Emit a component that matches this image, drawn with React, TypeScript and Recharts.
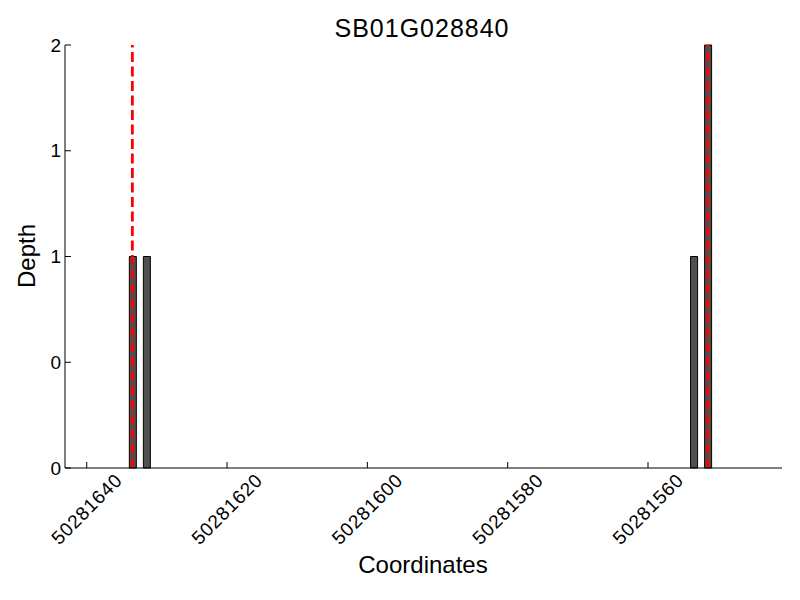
import { Bar, ComposedChart, ReferenceLine, XAxis, YAxis } from 'recharts'

// bar centres (coordinate) and their depth
const positions = [50281633.5, 50281631.5, 50281553.5, 50281551.5]
const depths = [1, 1, 1, 2]

// red dashed markers
const markerPositions = [50281633.5, 50281551.5]

const xTicks = [50281640, 50281620, 50281600, 50281580, 50281560]
const yTicks = [0, 0.5, 1, 1.5, 2]
const yTickLabels = ['0', '0', '1', '1', '2']

const title = 'SB01G028840'
const xLabel = 'Coordinates'
const yLabel = 'Depth'

const data = positions.map((x, i) => ({ x, depth: depths[i] }))

const FONT = '"Liberation Sans", Arial, sans-serif'
const PLOT_LEFT = 65
const PLOT_TOP = 45
const PLOT_BOTTOM = 468
const TICK_LEN = 6

const XTick = (props: any) => {
    const { x, payload } = props
    const cy = 509
    return (
        <g>
            <line x1={x} x2={x} y1={PLOT_BOTTOM} y2={PLOT_BOTTOM - TICK_LEN} stroke="#000" strokeWidth={1} />
            <text
                x={x}
                y={cy}
                transform={`rotate(-45 ${x} ${cy})`}
                textAnchor="middle"
                dominantBaseline="central"
                fontFamily={FONT}
                fontSize={19}
                letterSpacing={0.8}
                fill="#000"
            >
                {String(payload.value)}
            </text>
        </g>
    )
}

const YTick = (props: any) => {
    const { y, payload } = props
    const idx = yTicks.indexOf(payload.value)
    return (
        <g>
            <line x1={PLOT_LEFT} x2={PLOT_LEFT + TICK_LEN} y1={y} y2={y} stroke="#000" strokeWidth={1} />
            <text
                x={61}
                y={y}
                textAnchor="end"
                dominantBaseline="central"
                fontFamily={FONT}
                fontSize={19}
                fill="#000"
            >
                {yTickLabels[idx]}
            </text>
        </g>
    )
}

export default function App() {
    return (
        <div style={{ position: 'absolute', left: 0, top: 0, width: 800, height: 600, background: '#fff' }}>
            <ComposedChart
                width={800}
                height={600}
                data={data}
                margin={{ top: PLOT_TOP, right: 18, left: 0, bottom: 0 }}
            >
                <XAxis
                    dataKey="x"
                    type="number"
                    reversed
                    domain={[50281540.9, 50281643.1]}
                    allowDataOverflow
                    ticks={xTicks}
                    interval={0}
                    height={132}
                    tickLine={false}
                    axisLine={{ stroke: '#000', strokeWidth: 1 }}
                    tick={<XTick />}
                />
                <YAxis
                    type="number"
                    domain={[0, 2]}
                    ticks={yTicks}
                    interval={0}
                    width={65}
                    tickLine={false}
                    axisLine={{ stroke: '#000', strokeWidth: 1 }}
                    tick={<YTick />}
                />
                <Bar
                    dataKey="depth"
                    barSize={7}
                    fill="#505050"
                    stroke="#000"
                    strokeWidth={1}
                    isAnimationActive={false}
                />
                {markerPositions.map((m) => (
                    <ReferenceLine
                        key={m}
                        x={m}
                        stroke="#ff0000"
                        strokeWidth={2.8}
                        strokeDasharray="10 4.5"
                    />
                ))}
            </ComposedChart>
            <svg
                width={800}
                height={600}
                style={{ position: 'absolute', left: 0, top: 0, pointerEvents: 'none' }}
            >
                <text x={422} y={37} textAnchor="middle" fontFamily={FONT} fontSize={25} letterSpacing={1} fill="#000">
                    {title}
                </text>
                <text x={423} y={573} textAnchor="middle" fontFamily={FONT} fontSize={24} fill="#000">
                    {xLabel}
                </text>
                <text
                    x={35}
                    y={256}
                    transform="rotate(-90 35 256)"
                    textAnchor="middle"
                    fontFamily={FONT}
                    fontSize={24}
                    fill="#000"
                >
                    {yLabel}
                </text>
            </svg>
        </div>
    )
}
